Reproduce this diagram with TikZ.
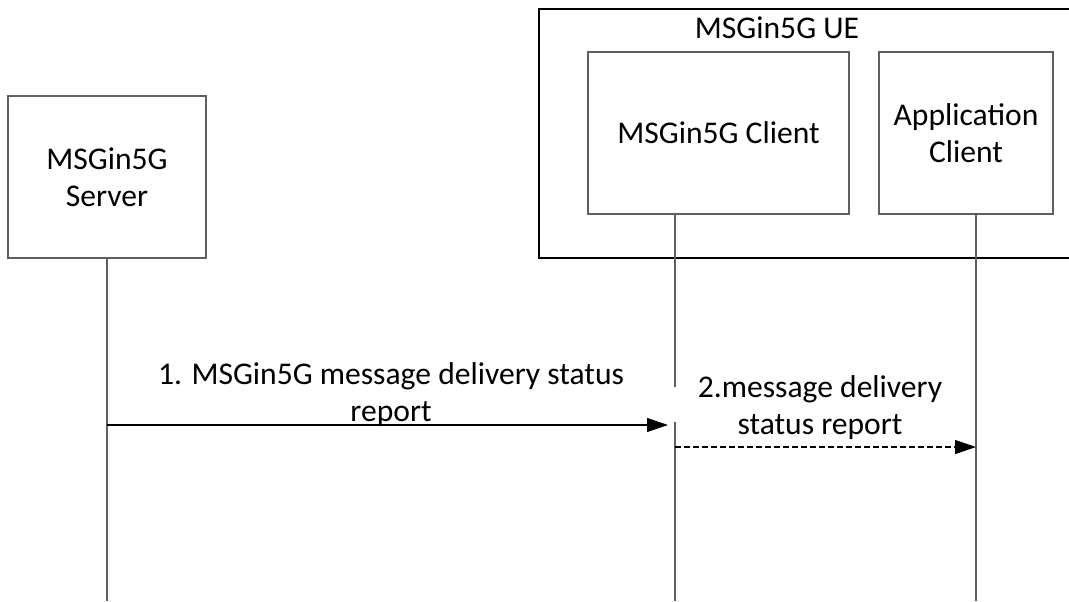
\documentclass[tikz,border=0pt]{standalone}
\usepackage{fontspec}
\setmainfont{Carlito}
\usetikzlibrary{positioning, arrows.meta}
\definecolor{boxline}{RGB}{95,95,95}

\begin{document}
\begin{tikzpicture}[x=0.5pt, y=-0.5pt, font=\fontsize{15.8}{18.5}\selectfont,
    entity/.style={draw=boxline, line width=0.6pt, align=center, inner sep=0pt},
    lifeline/.style={draw=boxline, line width=0.6pt},
    msg/.style={-{Triangle[length=10.5pt, width=7pt]}, line width=0.6pt}]
    \useasboundingbox (0,0) rectangle (1069,601);

    % UE frame
    \draw[line width=0.6pt] (539,9) rectangle (1085,258);
    \node (ue) at (777,28) {MSGin5G UE};

    % Entities
    \node[entity, minimum width=99pt, minimum height=81pt] (srv) at (107,177) {MSGin5G\\Server};
    \node[entity, minimum width=130.5pt, minimum height=81pt] (cli) at (718.5,133) {MSGin5G Client};
    \node[entity, minimum width=87pt, minimum height=81pt] (app) at (966,133) {Application\\Client};

    % Lifelines
    \coordinate (cliTop) at (cli.south -| 675,0);
    \coordinate (appTop) at (app.south -| 976,0);
    \draw[lifeline] (srv.south) -- (srv.south |- 0,601);
    \draw[lifeline] (cliTop) -- (cliTop |- 0,387);
    \draw[lifeline] (cliTop |- 0,422) -- (cliTop |- 0,601);
    \draw[lifeline] (appTop) -- (appTop |- 0,601);

    % Messages
    \coordinate (m1end) at (668,425);
    \draw[msg] (srv.south |- m1end) -- (m1end);
    \node[align=center] (lab1) at (391,395) {1. MSGin5G message delivery status\\report};

    \draw[msg, dash pattern=on 3pt off 1.5pt] (cliTop |- 0,447) -- (appTop |- 0,447);
    \node[align=center] (lab2) at (820,408) {2.message delivery\\status report};
\end{tikzpicture}
\end{document}
